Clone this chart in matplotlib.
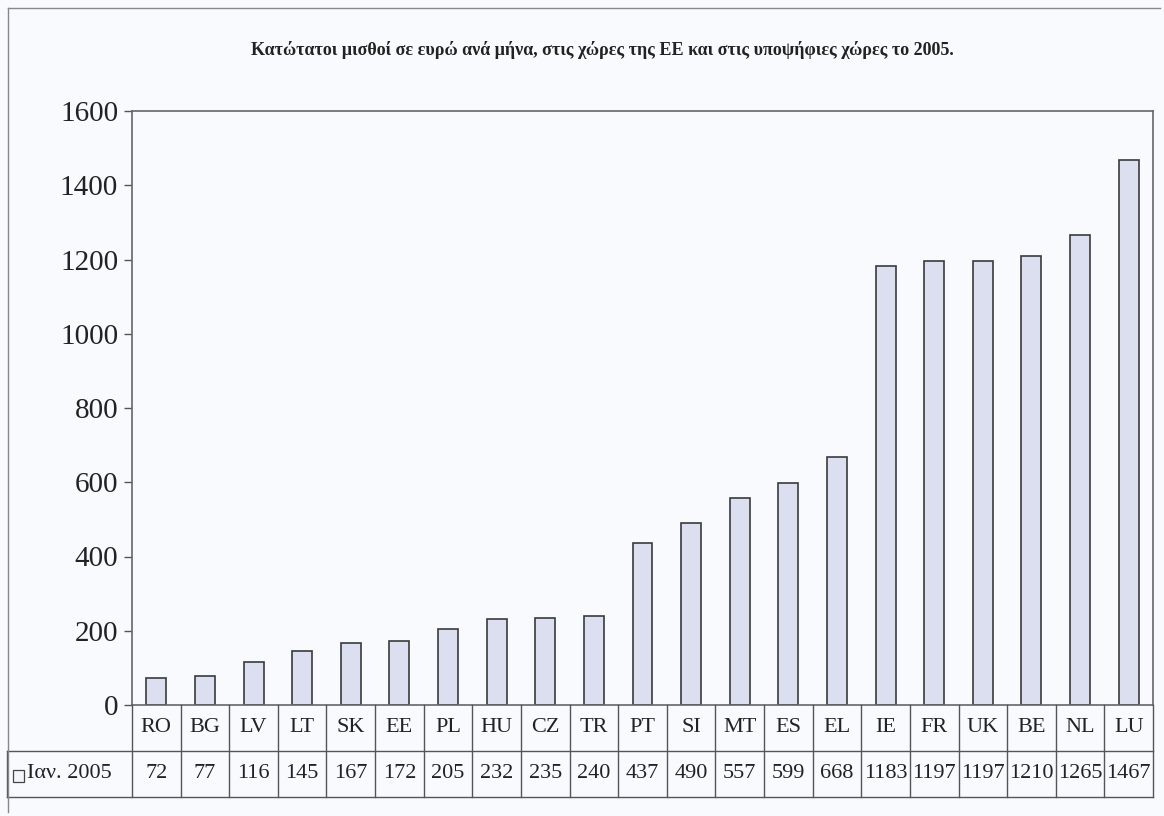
import matplotlib
matplotlib.use("Agg")
import matplotlib.pyplot as plt
from matplotlib.transforms import blended_transform_factory
from matplotlib.patches import Rectangle
from matplotlib.lines import Line2D

countries = ["RO", "BG", "LV", "LT", "SK", "EE", "PL", "HU", "CZ", "TR", "PT",
             "SI", "MT", "ES", "EL", "IE", "FR", "UK", "BE", "NL", "LU"]
values = [72, 77, 116, 145, 167, 172, 205, 232, 235, 240, 437,
          490, 557, 599, 668, 1183, 1197, 1197, 1210, 1265, 1467]
series_name = "Ιαν. 2005"
title = "Κατώτατοι μισθοί σε ευρώ ανά μήνα, στις χώρες της ΕΕ και στις υποψήφιες χώρες το 2005."
yticks = [0, 200, 400, 600, 800, 1000, 1200, 1400, 1600]

plt.rcParams['font.family'] = ['Liberation Serif', 'DejaVu Serif']

W, H = 1164, 816
fig = plt.figure(figsize=(W / 100, H / 100), dpi=100)
fig.patch.set_facecolor("#f9fafd")

def fy(py):
    return 1 - py / H

def fx(px):
    return px / W

L, R, T, B = 132, 1153, 111, 705
ax = fig.add_axes([fx(L), fy(B), fx(R - L), (B - T) / H])
ax.set_facecolor("#f9fafd")

x = list(range(len(countries)))
ax.bar(x, values, width=0.41, color="#dcdff0", edgecolor="#3a3a3a", linewidth=1.2)
ax.set_xlim(-0.5, len(countries) - 0.5)
ax.set_ylim(0, 1600)
ax.set_yticks(yticks)
ax.set_yticklabels([str(v) for v in yticks], fontsize=21, color="#222222")
ax.tick_params(axis="y", direction="out", length=6, width=1, color="#555555", pad=4)
ax.set_xticks([])
for s in ax.spines.values():
    s.set_color("#666666")
    s.set_linewidth(1.2)

fig.text(fx(602), fy(50), title, ha="center", va="center", fontsize=13,
         fontweight="bold", color="#222222")

# data table under the chart
tr = blended_transform_factory(ax.transData, fig.transFigure)
trf = fig.transFigure
lc = "#555555"
y_top, y_mid, y_bot = fy(B), fy(751), fy(797)
n = len(countries)
for i in range(n + 1):
    fig.add_artist(Line2D([i - 0.5, i - 0.5], [y_bot, y_top], transform=tr, color=lc, lw=1))
fig.add_artist(Line2D([fx(7), fx(R)], [y_mid, y_mid], transform=trf, color=lc, lw=1))
fig.add_artist(Line2D([fx(7), fx(R)], [y_bot, y_bot], transform=trf, color=lc, lw=1))
fig.add_artist(Line2D([fx(7), fx(7)], [y_bot, y_mid], transform=trf, color=lc, lw=1))

for i, (c, v) in enumerate(zip(countries, values)):
    fig.text(i, (y_top + y_mid) / 2, c, transform=tr, ha="center", va="center",
             fontsize=16, color="#222222")
    fig.text(i, (y_mid + y_bot) / 2, str(v), transform=tr, ha="center", va="center",
             fontsize=16, color="#222222")

# legend key
fig.add_artist(Rectangle((fx(13), fy(782)), fx(11), 12 / H, transform=trf,
                         facecolor="#f4f5fb", edgecolor="#444444", lw=0.9))
fig.text(fx(27), (y_mid + y_bot) / 2, series_name, transform=trf, ha="left",
         va="center", fontsize=16, color="#222222")

# outer frame
fig.add_artist(Line2D([fx(8), fx(8)], [fy(812), fy(8)], transform=trf, color="#888888", lw=1))
fig.add_artist(Line2D([fx(8), fx(1160)], [fy(8), fy(8)], transform=trf, color="#888888", lw=1))

fig.savefig("out.png", dpi=100, facecolor=fig.get_facecolor())
